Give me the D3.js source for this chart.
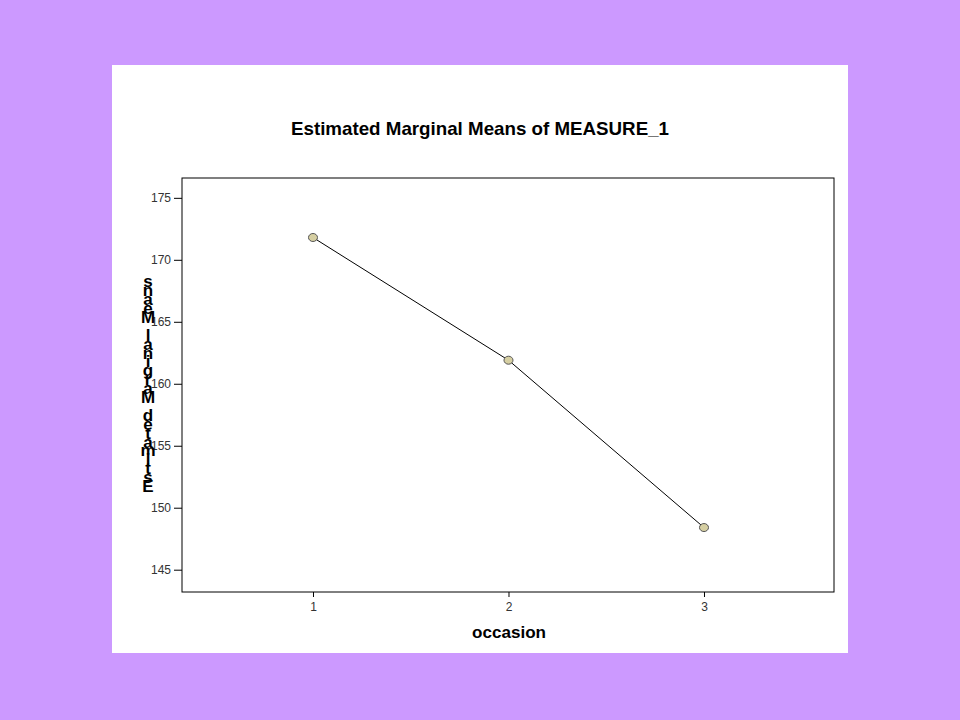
<!DOCTYPE html>
<html><head><meta charset="utf-8">
<script src="https://cdn.jsdelivr.net/npm/d3@7"></script>
<style>
html,body{margin:0;padding:0;background:#CC99FF;}
svg{display:block;}
text{font-family:"Liberation Sans",Arial,sans-serif;}
</style></head>
<body>
<script>
const occasions = [1, 2, 3];
const means = [171.8, 161.9, 148.4];
const yTicks = [145, 150, 155, 160, 165, 170, 175];
const titleText = "Estimated Marginal Means of MEASURE_1";
const xLabel = "occasion";
const yLabel = "Estimated Marginal Means";

const W = 960, H = 720;
const svg = d3.select("body").append("svg").attr("width", W).attr("height", H);
svg.append("rect").attr("width", W).attr("height", H).attr("fill", "#CC99FF");
svg.append("rect").attr("x", 112).attr("y", 65).attr("width", 736).attr("height", 588).attr("fill", "#fff");

const plot = {left: 182, top: 178, right: 834, bottom: 592};
const x = d3.scaleLinear().domain([0.33, 3.665]).range([plot.left, plot.right]);
const y = d3.scaleLinear().domain([143.2, 176.6]).range([plot.bottom, plot.top]);

svg.append("rect").attr("x", plot.left).attr("y", plot.top)
  .attr("width", plot.right - plot.left).attr("height", plot.bottom - plot.top)
  .attr("fill", "none").attr("stroke", "#000").attr("stroke-width", 1);

const yAxis = svg.append("g").attr("transform", `translate(${plot.left},0)`)
  .call(d3.axisLeft(y).tickValues(yTicks).tickSize(8).tickPadding(3).tickFormat(d3.format("d")));
yAxis.select(".domain").remove();
yAxis.selectAll("text").attr("font-size", 12).attr("fill", "#333").attr("font-family", "Liberation Sans, Arial, sans-serif");

const xAxis = svg.append("g").attr("transform", `translate(0,${plot.bottom})`)
  .call(d3.axisBottom(x).tickValues(occasions).tickSize(5).tickPadding(5).tickFormat(d3.format("d")));
xAxis.select(".domain").remove();
xAxis.selectAll("text").attr("font-size", 12).attr("fill", "#333").attr("font-family", "Liberation Sans, Arial, sans-serif");

const line = d3.line().x((d, i) => x(occasions[i])).y(d => y(d));
svg.append("path").datum(means).attr("d", line).attr("fill", "none").attr("stroke", "#000").attr("stroke-width", 1);

svg.selectAll("ellipse.pt").data(means).enter().append("ellipse")
  .attr("class", "pt")
  .attr("cx", (d, i) => x(occasions[i])).attr("cy", d => y(d))
  .attr("rx", 4.5).attr("ry", 4)
  .attr("fill", "#D6CFA2").attr("stroke", "#555").attr("stroke-width", 1);

svg.append("text").attr("x", 480).attr("y", 135).attr("text-anchor", "middle")
  .attr("font-size", 18.5).attr("font-weight", "bold").attr("fill", "#000")
  .attr("textLength", 378).attr("lengthAdjust", "spacingAndGlyphs").text(titleText);

svg.append("text").attr("x", 509).attr("y", 638).attr("text-anchor", "middle")
  .attr("font-size", 17).attr("font-weight", "bold").attr("fill", "#000")
  .attr("textLength", 74).attr("lengthAdjust", "spacingAndGlyphs").text(xLabel);

// garbled stacked y-axis label: characters stacked bottom-to-top (one text element)
const chars = yLabel.split("");
const baseY = 492, step = 8.9;
const yl = svg.append("text").attr("text-anchor", "middle").attr("font-size", 17)
  .attr("font-weight", "bold").attr("fill", "#000");
chars.forEach((c, i) => {
  if (c === " ") return;
  yl.append("tspan").attr("x", 148).attr("y", baseY - i * step).text(c);
});
</script>
</body></html>
